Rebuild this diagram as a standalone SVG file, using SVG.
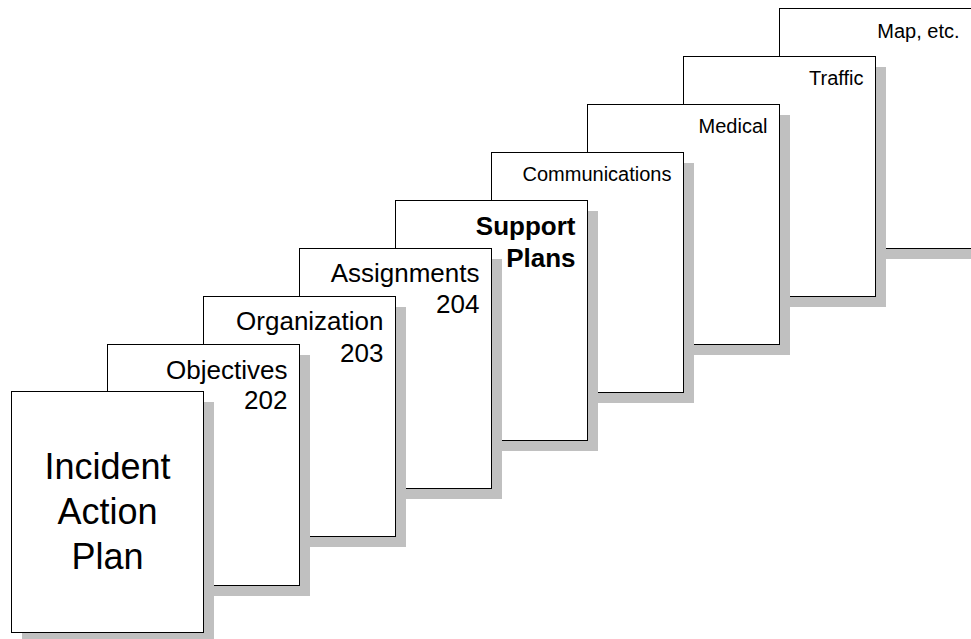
<svg xmlns="http://www.w3.org/2000/svg" width="971" height="639" viewBox="0 0 971 639">
<style>
.sh{fill:#C0C0C0;stroke:none}
.bx{fill:#FFFFFF;stroke:#000000;stroke-width:1}
text{font-family:"Liberation Sans",Arial,sans-serif;fill:#000000}
.sm{font-size:20px;text-anchor:end}
.md{font-size:26px;text-anchor:end}
.bd{font-size:26px;font-weight:bold;text-anchor:end}
.lg{font-size:36px;text-anchor:middle}
</style>
<rect width="971" height="639" fill="#FFFFFF"/>
<g id="map">
<rect class="sh" x="790" y="19" width="192" height="240"/>
<rect class="bx" x="779.5" y="8.5" width="192" height="240"/>
<text class="sm" x="959.5" y="37.5">Map, etc.</text>
</g>
<g id="traffic">
<rect class="sh" x="694" y="67" width="192" height="240"/>
<rect class="bx" x="683.5" y="56.5" width="192" height="240"/>
<text class="sm" x="863.5" y="85">Traffic</text>
</g>
<g id="medical">
<rect class="sh" x="598" y="115" width="192" height="240"/>
<rect class="bx" x="587.5" y="104.5" width="192" height="240"/>
<text class="sm" x="767.5" y="133">Medical</text>
</g>
<g id="communications">
<rect class="sh" x="502" y="163" width="192" height="240"/>
<rect class="bx" x="491.5" y="152.5" width="192" height="240"/>
<text class="sm" x="671.5" y="181">Communications</text>
</g>
<g id="support-plans">
<rect class="sh" x="406" y="211" width="192" height="240"/>
<rect class="bx" x="395.5" y="200.5" width="192" height="240"/>
<text class="bd" x="575.5" y="234.5">Support</text>
<text class="bd" x="575.5" y="266.5">Plans</text>
</g>
<g id="assignments">
<rect class="sh" x="310" y="259" width="192" height="240"/>
<rect class="bx" x="299.5" y="248.5" width="192" height="240"/>
<text class="md" x="479.5" y="282">Assignments</text>
<text class="md" x="479.5" y="313">204</text>
</g>
<g id="organization">
<rect class="sh" x="214" y="307" width="192" height="240"/>
<rect class="bx" x="203.5" y="296.5" width="192" height="240"/>
<text class="md" x="383.5" y="330">Organization</text>
<text class="md" x="383.5" y="361.5">203</text>
</g>
<g id="objectives">
<rect class="sh" x="118" y="355" width="192" height="241"/>
<rect class="bx" x="107.5" y="344.5" width="192" height="241"/>
<text class="md" x="287.5" y="378.5">Objectives</text>
<text class="md" x="287.5" y="409">202</text>
</g>
<g id="incident-action-plan">
<rect class="sh" x="22" y="402" width="192" height="241"/>
<rect class="bx" x="11.5" y="391.5" width="192" height="241"/>
<text class="lg" x="107.5" y="478.5">Incident</text>
<text class="lg" x="107.5" y="523.5">Action</text>
<text class="lg" x="107.5" y="568.5">Plan</text>
</g>
<g id="connectors"></g>
</svg>
